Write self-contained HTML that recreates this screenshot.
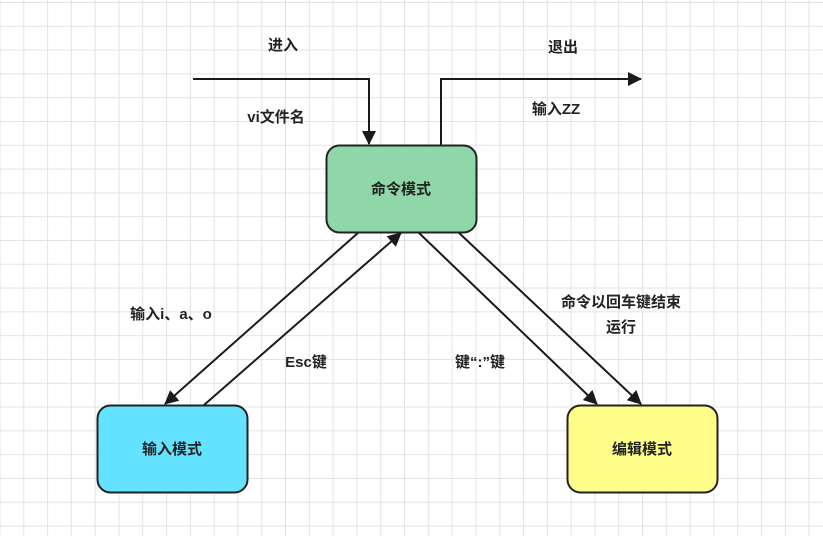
<!DOCTYPE html>
<html><head><meta charset="utf-8"><style>
body{margin:0;width:823px;height:536px;overflow:hidden;background:#fff;
background-image:linear-gradient(#e3e3e3 1px,transparent 1px),linear-gradient(90deg,#e3e3e3 1px,transparent 1px);
background-size:23.8px 23.8px;background-position:-0.5px 2px;}
svg{position:absolute;left:0;top:0}
text{font-family:"Liberation Sans","Noto Sans CJK SC",sans-serif;font-weight:bold;font-size:15px;fill:#222;text-anchor:middle;dominant-baseline:middle}
</style></head><body>
<svg width="823" height="536">
<defs><marker id="a" markerWidth="10" markerHeight="10" refX="9" refY="5" orient="auto" markerUnits="userSpaceOnUse"><path d="M0,0 L10,5 L0,10z" fill="#1a1a1a"/></marker>
<marker id="b" markerWidth="14" markerHeight="14" refX="13" refY="7" orient="auto" markerUnits="userSpaceOnUse"><path d="M0,0 L14,7 L0,14z" fill="#1a1a1a"/></marker></defs>
<g stroke="#1a1a1a" stroke-width="2" fill="none">
<polyline points="193,79 369,79 369,144" marker-end="url(#b)"/>
<polyline points="441,145 441,79 641,79" marker-end="url(#b)"/>
<line x1="359" y1="232" x2="165" y2="404" marker-end="url(#b)"/>
<line x1="204" y1="405" x2="401" y2="233" marker-end="url(#b)"/>
<line x1="418" y1="232" x2="597" y2="404" marker-end="url(#b)"/>
<line x1="458" y1="232" x2="641" y2="404" marker-end="url(#b)"/>
</g>
<rect x="326.5" y="145.5" width="150" height="87" rx="13" fill="#8fd6a8" stroke="#222" stroke-width="2"/>
<rect x="97.5" y="405.5" width="150" height="87" rx="13" fill="#63e3ff" stroke="#222" stroke-width="2"/>
<rect x="567.5" y="405.5" width="150" height="87" rx="13" fill="#fdfd88" stroke="#222" stroke-width="2"/>
<text x="401" y="190">命令模式</text>
<text x="172" y="450">输入模式</text>
<text x="642" y="450">编辑模式</text>
<text x="283" y="46">进入</text>
<text x="563" y="48">退出</text>
<text x="276" y="118">vi文件名</text>
<text x="556" y="110">输入ZZ</text>
<text x="171" y="315">输入i、a、o</text>
<text x="306" y="363">Esc键</text>
<text x="480" y="363">键“:”键</text>
<text x="621" y="303">命令以回车键结束</text>
<text x="621" y="328">运行</text>
</svg>
</body></html>
